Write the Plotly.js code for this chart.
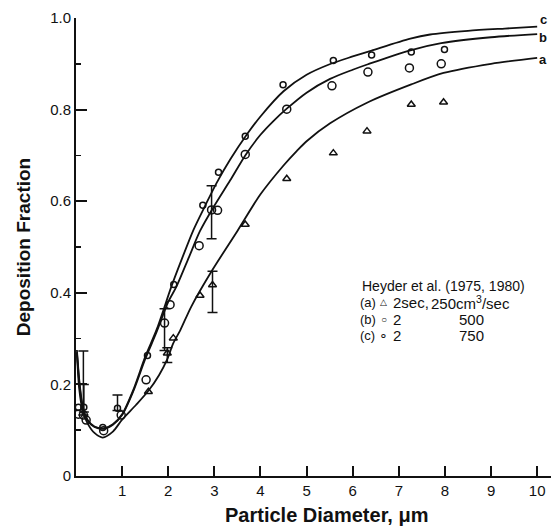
<!DOCTYPE html>
<html>
<head>
<meta charset="utf-8">
<script src="https://cdn.plot.ly/plotly-3.0.1.min.js"></script>
<style>html,body{margin:0;padding:0;background:#fff;}#chart{width:551px;height:527px;}</style>
</head>
<body>
<div id="chart"></div>
<script>
// ---- Fitted curves ----
const curveAx = [0.02,0.07,0.15,0.25,0.4,0.58,0.8,1.0,1.3,1.57,1.8,1.98,2.11,2.26,2.5,2.94,3.5,4.0,4.5,4.79,5.0,5.51,6.31,7.27,7.97,9.0,10.0];
const curveAy = [0.27,0.19,0.14,0.115,0.094,0.084,0.097,0.123,0.155,0.186,0.22,0.255,0.29,0.318,0.37,0.447,0.535,0.615,0.678,0.71,0.731,0.77,0.815,0.855,0.88,0.9,0.913];
const curveBx = [0.02,0.08,0.15,0.25,0.4,0.6,0.8,1.0,1.25,1.5,1.75,2.0,2.18,2.45,2.69,3.0,3.34,3.67,4.0,4.28,4.57,5.0,5.51,6.0,6.33,7.23,7.92,9.0,10.0];
const curveBy = [0.27,0.195,0.147,0.121,0.107,0.103,0.112,0.133,0.187,0.255,0.315,0.38,0.414,0.478,0.535,0.59,0.645,0.70,0.745,0.775,0.802,0.837,0.867,0.887,0.899,0.929,0.945,0.958,0.965];
const curveCx = [0.02,0.08,0.15,0.25,0.4,0.6,0.8,1.0,1.25,1.5,1.75,2.07,2.3,2.55,2.8,3.05,3.35,3.7,4.0,4.5,5.0,5.5,6.0,6.41,7.25,7.68,8.5,9.3,10.0];
const curveCy = [0.275,0.2,0.15,0.123,0.108,0.104,0.113,0.135,0.19,0.26,0.32,0.414,0.475,0.538,0.59,0.64,0.692,0.745,0.785,0.84,0.876,0.899,0.916,0.929,0.955,0.964,0.972,0.977,0.981];

// ---- Heyder et al. data points ----
const aX = [1.57,2.11,2.69,3.67,4.57,5.58,6.31,7.27,7.97];
const aY = [0.184,0.301,0.394,0.549,0.649,0.705,0.753,0.811,0.816];
const aErrX = [1.98,2.96];
const aErrY = [0.268,0.417];
const aErrUp = [0.012,0.03];
const aErrDown = [0.02,0.06];

const bX = [0.05,0.22,0.6,0.98,1.52,2.04,2.67,3.07,3.67,4.57,5.55,6.33,7.23,7.92];
const bY = [0.135,0.122,0.099,0.133,0.21,0.374,0.503,0.58,0.702,0.801,0.852,0.882,0.891,0.90];
const bErrX = [0.16,1.92,2.94];
const bErrY = [0.133,0.334,0.581];
const bErrUp = [0.14,0.031,0.053];
const bErrDown = [0.0,0.06,0.063];

const cX = [0.05,0.58,1.55,2.12,2.75,3.09,3.67,4.49,5.58,6.41,7.27,7.99];
const cY = [0.15,0.106,0.263,0.418,0.591,0.663,0.742,0.854,0.907,0.919,0.926,0.931];
const cErrX = [0.17,0.9];
const cErrY = [0.15,0.148];
const cErrUp = [0.05,0.029];
const cErrDown = [0.01,0.005];

const xTicks = [1,2,3,4,5,6,7,8,9,10];
const yTicks = [0,0.2,0.4,0.6,0.8,1.0];
const yTickText = ['0','0.2','0.4','0.6','0.8','1.0'];

const INK = '#111';
const FONT = 'Liberation Sans, Arial, sans-serif';

function curve(x, y, name) {
  return {x: x, y: y, mode: 'lines', name: name, showlegend: false,
    line: {color: INK, width: 1.8, shape: 'spline', smoothing: 0.8}, hoverinfo: 'skip'};
}
function pts(x, y, sym, size, name) {
  return {x: x, y: y, mode: 'markers', name: name, showlegend: false,
    marker: {symbol: sym, size: size, color: INK, line: {color: INK, width: 1.5}}};
}
function errPts(x, y, up, down, sym, size, name) {
  const t = pts(x, y, sym, size, name);
  t.error_y = {type: 'data', symmetric: false, array: up, arrayminus: down,
    color: INK, thickness: 1.5, width: 5};
  return t;
}

const traces = [
  curve(curveAx, curveAy, 'a'),
  curve(curveBx, curveBy, 'b'),
  curve(curveCx, curveCy, 'c'),
  pts(aX, aY, 'triangle-up-open', 7, '(a)'),
  errPts(aErrX, aErrY, aErrUp, aErrDown, 'triangle-up-open', 7, '(a) err'),
  pts(bX, bY, 'circle-open', 8, '(b)'),
  errPts(bErrX, bErrY, bErrUp, bErrDown, 'circle-open', 8, '(b) err'),
  pts(cX, cY, 'circle-open', 6, '(c)'),
  errPts(cErrX, cErrY, cErrUp, cErrDown, 'circle-open', 6, '(c) err')
];

function txt(x, y, text, size, anchor) {
  return {x: x, y: y, xref: 'x', yref: 'y', text: text, showarrow: false,
    xanchor: anchor || 'left', yanchor: 'middle',
    font: {family: FONT, size: size, color: INK}};
}

const annotations = [
  txt(10.13, 0.997, '<b>c</b>', 13, 'center'),
  txt(10.13, 0.957, '<b>b</b>', 13, 'center'),
  txt(10.13, 0.909, '<b>a</b>', 13, 'center'),
  txt(6.16, 0.415, 'Heyder et al. (1975, 1980)', 14),
  txt(6.12, 0.378, '(a)', 13),
  txt(6.12, 0.341, '(b)', 13),
  txt(6.12, 0.306, '(c)', 13),
  txt(6.67, 0.380, '△', 9, 'center'),
  txt(6.67, 0.342, '○', 10, 'center'),
  txt(6.67, 0.307, '∘', 14, 'center'),
  txt(6.84, 0.378, '2sec,', 15),
  txt(6.84, 0.341, '2', 15),
  txt(6.84, 0.306, '2', 15),
  txt(7.66, 0.378, '250cm<sup>3</sup>/sec', 15),
  txt(8.26, 0.341, '500', 15),
  txt(8.26, 0.306, '750', 15),
  // x-axis title, placed to match the reference's off-centre position
  {xref: 'paper', yref: 'paper', x: 0.528, y: -0.085, xanchor: 'center', yanchor: 'middle',
   showarrow: false, text: '<b>Particle Diameter, μm</b>', font: {family: FONT, size: 20, color: INK}}
];

const layout = {
  width: 551, height: 527,
  margin: {l: 76, r: 0, t: 18, b: 51},
  paper_bgcolor: '#fff', plot_bgcolor: '#fff',
  showlegend: false,
  font: {family: FONT, color: INK},
  xaxis: {
    range: [0, 10.3], showgrid: false, zeroline: false,
    showline: true, linecolor: INK, linewidth: 2,
    ticks: 'inside', ticklen: 10, tickwidth: 2, tickcolor: INK,
    tickvals: xTicks, ticktext: xTicks.map(String),
    tickfont: {family: FONT, size: 15, color: INK}
  },
  yaxis: {
    range: [0, 1.0], showgrid: false, zeroline: false,
    showline: true, linecolor: INK, linewidth: 2,
    ticks: 'inside', ticklen: 11, tickwidth: 2, tickcolor: INK,
    tickvals: yTicks, ticktext: yTickText,
    minor: {dtick: 0.1, ticks: 'inside', ticklen: 5, tickwidth: 1.5, tickcolor: INK, showgrid: false},
    tickfont: {family: FONT, size: 15, color: INK},
    title: {text: '<b>Deposition Fraction</b>', font: {family: FONT, size: 19, color: INK}, standoff: 14}
  },
  annotations: annotations
};

Plotly.newPlot('chart', traces, layout, {displayModeBar: false, staticPlot: true});
</script>
</body>
</html>
